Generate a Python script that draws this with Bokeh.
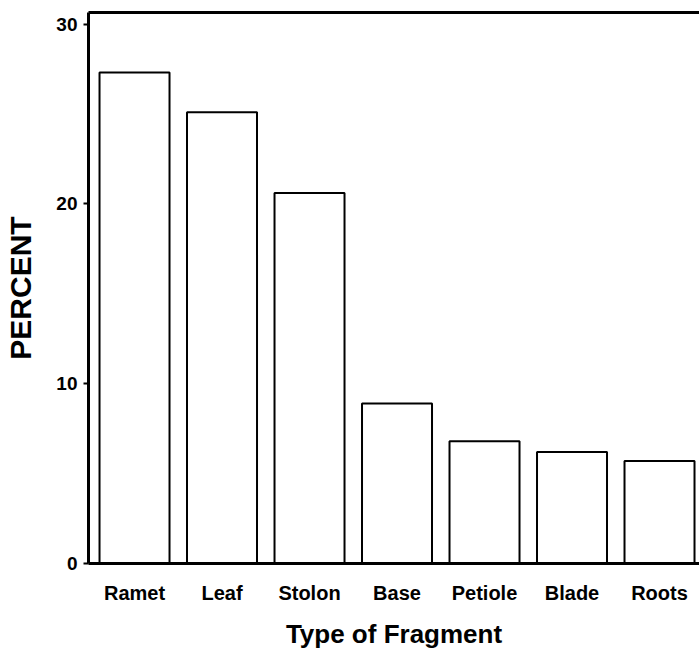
from bokeh.plotting import figure
from bokeh.models import LinearAxis, FixedTicker, Range1d
from bokeh.embed import file_html
from bokeh.resources import INLINE

categories = ["Ramet", "Leaf", "Stolon", "Base", "Petiole", "Blade", "Roots"]
percent = [27.3, 25.1, 20.6, 8.9, 6.8, 6.2, 5.7]
y_ticks = [0, 10, 20, 30]

xs = list(range(len(categories)))

p = figure(width=699, height=651, output_backend="svg", toolbar_location=None,
           x_range=Range1d(-0.526, 6.457), y_range=Range1d(0, 30.64),
           min_border_left=88, min_border_right=0, min_border_top=12, min_border_bottom=88)
p.background_fill_color = "white"
p.border_fill_color = "white"
p.outline_line_color = None
p.grid.visible = False

p.vbar(x=xs, top=percent, bottom=0, width=0.8, fill_color="white",
       line_color="black", line_width=2)

font = "Liberation Sans"

xa = p.xaxis[0]
xa.ticker = FixedTicker(ticks=xs)
xa.major_label_overrides = {i: c for i, c in enumerate(categories)}
xa.major_tick_line_color = None
xa.major_tick_out = 0
xa.major_tick_in = 0
xa.minor_tick_line_color = None
xa.axis_line_width = 3
xa.axis_line_color = "black"
xa.major_label_text_font = font
xa.major_label_text_font_style = "bold"
xa.major_label_text_font_size = "20px"
xa.major_label_text_color = "black"
xa.major_label_standoff = 18
xa.axis_label = "Type of Fragment"
xa.axis_label_text_font = font
xa.axis_label_text_font_style = "bold"
xa.axis_label_text_font_size = "26px"
xa.axis_label_text_color = "black"
xa.axis_label_standoff = 12

ya = p.yaxis[0]
ya.ticker = FixedTicker(ticks=y_ticks)
ya.minor_tick_line_color = None
ya.major_tick_out = 5
ya.major_tick_in = 0
ya.major_tick_line_width = 2
ya.axis_line_width = 3
ya.axis_line_color = "black"
ya.major_label_text_font = font
ya.major_label_text_font_style = "bold"
ya.major_label_text_font_size = "19px"
ya.major_label_text_color = "black"
ya.major_label_standoff = 6
ya.axis_label = "PERCENT"
ya.axis_label_text_font = font
ya.axis_label_text_font_style = "bold"
ya.axis_label_text_font_size = "30px"
ya.axis_label_text_color = "black"
ya.axis_label_standoff = 16

top = LinearAxis(ticker=FixedTicker(ticks=[]), axis_line_width=3, axis_line_color="black",
                 major_tick_line_color=None, minor_tick_line_color=None,
                 major_tick_out=0, major_tick_in=0,
                 major_label_text_font_size="0px")
p.add_layout(top, "above")

open("out.html", "w").write(file_html(p, INLINE))
